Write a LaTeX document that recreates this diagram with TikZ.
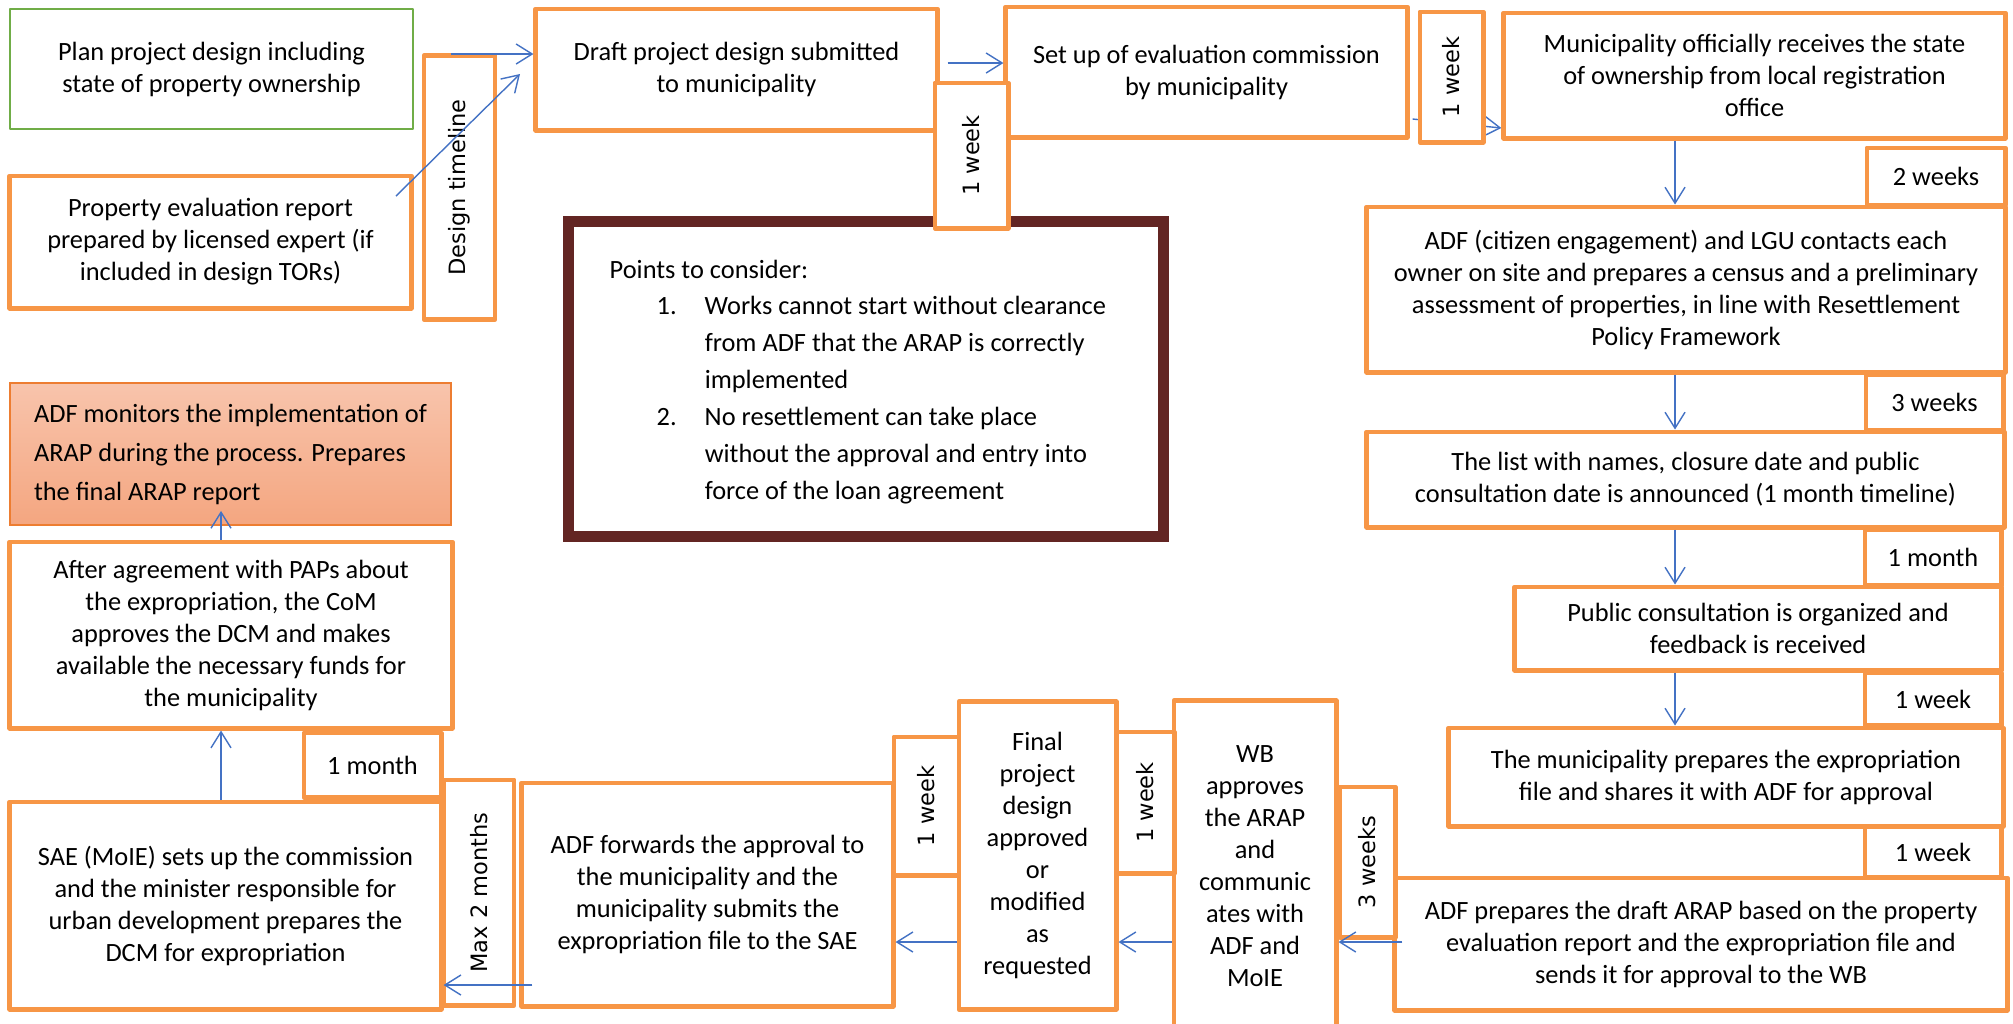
\documentclass[tikz,border=0pt]{standalone}
\usepackage{fontspec}
\setmainfont{Carlito}
\newfontfamily\lapsefont{DejaVu Sans}
\usetikzlibrary{arrows.meta,calc,backgrounds}
\definecolor{boxorange}{HTML}{F79646}
\definecolor{plangreen}{HTML}{70AD47}
\definecolor{flowblue}{HTML}{4472C4}
\definecolor{notemaroon}{HTML}{632523}
\definecolor{montop}{HTML}{F8C4AC}
\definecolor{monbottom}{HTML}{F4A680}
\definecolor{monedge}{HTML}{ED7D31}
\begin{document}
\begin{tikzpicture}[x=0.01cm,y=-0.01cm,
  >={Straight Barb[length=1.6mm,width=2mm]},
  stage/.style={draw=boxorange,line width=1.4pt,line join=round,fill=white,
    align=center,inner sep=0pt,font={\fontsize{7.5}{9.1}\selectfont}},
  lapse/.style={stage},
  vlapse/.style={stage,rotate=90,font={\lapsefont\fontsize{6.4}{7.5}\selectfont}},
  monitorbox/.style={draw=monedge,line width=0.5pt,top color=montop,bottom color=monbottom,
    align=left,inner sep=0pt,font={\fontsize{7.5}{11.1}\selectfont}},
  flow/.style={->,flowblue,line width=0.4pt}]
\useasboundingbox (0,0) rectangle (2013,1023);

% design stage
\node[stage,draw=plangreen,line width=0.6pt,minimum width=4.03cm,minimum height=1.20cm] (plan) at (211.5,69) {Plan project design including\\state of property ownership};
\node[stage,minimum width=4.01cm,minimum height=1.32cm] (evalrep) at (210.5,242) {Property evaluation report\\prepared by licensed expert (if\\included in design TORs)};
\node[vlapse,minimum width=2.63cm,minimum height=.71cm] (designtl) at (459.5,187.5) {Design timeline};
\node[stage,minimum width=4.01cm,minimum height=1.21cm] (draft) at (736.5,69.5) {Draft project design submitted\\to municipality};
\node[stage,minimum width=4.01cm,minimum height=1.30cm] (setup) at (1206.5,72) {Set up of evaluation commission\\by municipality};
\node[stage,minimum width=5.01cm,minimum height=1.25cm] (receive) at (1754.5,75.5) {Municipality officially receives the state\\of ownership from local registration\\office};

% points to consider
\node[draw=notemaroon,line width=0.09cm,fill=white,minimum width=5.97cm,minimum height=3.17cm] (points) at (866,379) {};
\draw[notemaroon,line width=0.03cm] ($(points.north west)+(9.5,9.5)$) rectangle ($(points.south east)+(-9.5,-9.5)$);
\node[anchor=base west,inner sep=0pt,font={\fontsize{7.5}{10.5}\selectfont}] (pointstext) at (609,278) {%
  \begin{tabular}[t]{@{}p{0.47cm}@{}p{0.48cm}@{}l@{}}
  \multicolumn{3}{@{}l@{}}{Points to consider:}\\
  & 1. & Works cannot start without clearance\\
  & & from ADF that the ARAP is correctly\\
  & & implemented\\
  & 2. & No resettlement can take place\\
  & & without the approval and entry into\\
  & & force of the loan agreement
  \end{tabular}};

\node[vlapse,minimum width=1.45cm,minimum height=.73cm] (wkA) at (971.5,155.5) {1 week};
\begin{pgfonlayer}{background}
\fill[white] (0,0) rectangle (2013,1023);
\draw[flow] ($(setup.east |- 0,119)+(3,0)$) -- (receive.west |- 0,128);
\end{pgfonlayer}
\node[vlapse,minimum width=1.30cm,minimum height=.63cm] (wkB) at (1451.5,77) {1 week};

% municipality and ADF steps
\node[stage,minimum width=6.38cm,minimum height=1.65cm] (census) at (1686,289.5) {ADF (citizen engagement) and LGU contacts each\\owner on site and prepares a census and a preliminary\\assessment of properties, in line with Resettlement\\Policy Framework};
\node[lapse,minimum width=1.38cm,minimum height=.57cm] (twowk) at (1936,176.5) {2 weeks};
\node[lapse,minimum width=1.37cm,minimum height=.55cm] (threewk) at (1934.5,402.5) {3 weeks};
\node[stage,minimum width=6.37cm,minimum height=.95cm] (announce) at (1685.5,479.5) {The list with names, closure date and public\\consultation date is announced (1 month timeline)};
\node[lapse,minimum width=1.36cm,minimum height=.55cm] (onemonthR) at (1933,557.5) {1 month};
\node[stage,minimum width=4.86cm,minimum height=.83cm] (consult) at (1758,628.5) {Public consultation is organized and\\feedback is received};
\node[lapse,minimum width=1.36cm,minimum height=.52cm] (oneweekR) at (1933,699) {1 week};
\node[stage,minimum width=5.54cm,minimum height=.98cm] (expfile) at (1726,777) {The municipality prepares the expropriation\\file and shares it with ADF for approval};
\node[lapse,minimum width=1.36cm,minimum height=.50cm] (oneweekS) at (1933,852) {1 week};
\node[stage,minimum width=6.12cm,minimum height=1.32cm] (draftarap) at (1701,944) {ADF prepares the draft ARAP based on the property\\evaluation report and the expropriation file and\\sends it for approval to the WB};

% approval and expropriation
\node[vlapse,minimum width=1.50cm,minimum height=.55cm] (threewkV) at (1367.5,862) {3 weeks};
\node[stage,minimum width=1.62cm,minimum height=3.30cm] (wbok) at (1255,866) {WB\\approves\\the ARAP\\and\\communic\\ates with\\ADF and\\MoIE};
\node[vlapse,minimum width=1.41cm,minimum height=.58cm] (wkC) at (1145,802.5) {1 week};
\node[stage,minimum width=1.57cm,minimum height=3.07cm] (finaldes) at (1037.5,855.5) {Final\\project\\design\\approved\\or\\modified\\as\\requested};
\node[vlapse,minimum width=1.38cm,minimum height=.65cm] (wkD) at (926.5,806) {1 week};
\node[stage,minimum width=3.71cm,minimum height=2.23cm] (forward) at (707.5,894.5) {ADF forwards the approval to\\the municipality and the\\municipality submits the\\expropriation file to the SAE};
\node[vlapse,minimum width=2.25cm,minimum height=.70cm] (maxtwo) at (479,892.5) {Max 2 months};
\node[stage,minimum width=4.31cm,minimum height=2.07cm] (sae) at (225.5,905.5) {SAE (MoIE) sets up the commission\\and the minister responsible for\\urban development prepares the\\DCM for expropriation};
\node[lapse,minimum width=1.37cm,minimum height=.64cm] (onemonthL) at (372.5,765) {1 month};
\node[stage,minimum width=4.42cm,minimum height=1.86cm] (agree) at (231,635) {After agreement with PAPs about\\the expropriation, the CoM\\approves the DCM and makes\\available the necessary funds for\\the municipality};
\node[monitorbox,minimum width=4.41cm,minimum height=1.42cm] (monitor) at (230.5,454) {ADF monitors the implementation of\\ARAP during the process. Prepares\\the final ARAP report};

% connectors
\coordinate (planout) at (451,54);
\coordinate (evalout) at (396,196);
\coordinate (draftin) at (520,74);
\coordinate (spine) at (1675,0);
\coordinate (lowrow) at (0,942);
\coordinate (leftup) at (221,0);
\draw[flow] (planout) -- (planout -| draft.west);
\draw[flow] (evalout) -- (draftin);
\draw[flow] ($(draft.east |- 0,63)+(8,0)$) -- (setup.west |- 0,63);
\draw[flow] (receive.south -| spine) -- (census.north -| spine);
\draw[flow] (census.south -| spine) -- (announce.north -| spine);
\draw[flow] (announce.south -| spine) -- (consult.north -| spine);
\draw[flow] (consult.south -| spine) -- (expfile.north -| spine);
\draw[flow] ($(draftarap.west |- lowrow)+(10,0)$) -- (wbok.east |- lowrow);
\draw[flow] (wbok.west |- lowrow) -- (finaldes.east |- lowrow);
\draw[flow] (finaldes.west |- lowrow) -- (forward.east |- lowrow);
\draw[flow] ($(forward.west |- 0,985)+(13,0)$) -- (sae.east |- 0,985);
\draw[flow] (sae.north -| leftup) -- (agree.south -| leftup);
\draw[flow] (agree.north -| leftup) -- ($(monitor.south -| leftup)+(0,-15)$);
\end{tikzpicture}
\end{document}
